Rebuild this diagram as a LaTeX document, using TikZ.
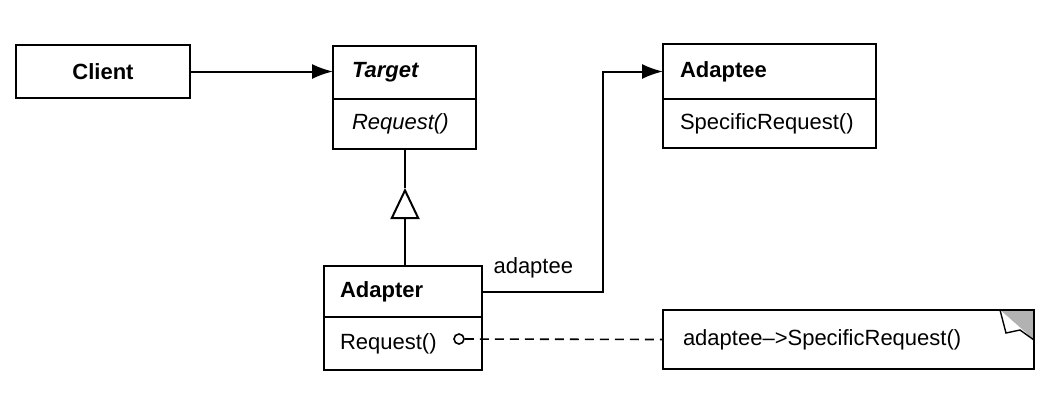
\documentclass[tikz,border=0pt]{standalone}
\usepackage{fontspec}
\setmainfont{Liberation Sans}
\usetikzlibrary{shapes,arrows.meta,positioning,calc}

\tikzset{
    umlbox/.style={draw, line width=2pt, inner ysep=0pt, outer sep=0pt, font=\fontsize{22}{26}\selectfont},
    clspart/.style 2 args={umlbox, align=left, text width=#1, inner xsep=#2},
    assoc/.style={line width=2pt, -{Latex[length=21pt,width=15pt]}},
    inherit/.style={line width=2pt, -{Triangle[open,length=31pt,width=29pt]}},
}

\begin{document}
\begin{tikzpicture}[x=1pt, y=-1pt]
    \useasboundingbox (0,0) rectangle (1051,400);

    % Client
    \node[umlbox, minimum width=174pt, minimum height=53pt] (client) at (103,71.5) {\bfseries Client};

    % Target
    \node[clspart={105pt}{19pt}, minimum height=53pt] (target) at (404.5,72.5) {\bfseries\itshape Target};
    \node[clspart={105pt}{19pt}, minimum height=50pt, below=0pt of target] (targetops) {\itshape Request()};

    % Adaptee
    \node[clspart={179pt}{17pt}, minimum height=55pt] (adaptee) at (769.5,71.5) {\bfseries Adaptee};
    \node[clspart={179pt}{17pt}, minimum height=49pt, below=0pt of adaptee] (adapteeops) {SpecificRequest()};

    % Adapter
    \node[clspart={126pt}{16pt}, minimum height=51pt] (adapter) at (403,291.5) {\bfseries Adapter};
    \node[clspart={126pt}{16pt}, minimum height=53pt, below=0pt of adapter] (adapterops) {Request()};

    % Note with folded corner
    \node[clspart={331pt}{20pt}, minimum height=59pt] (note) at (848.5,339.5) {adaptee--{>}SpecificRequest()};
    \fill[gray!60] ($(note.north east)+(-34,0)$) -- (note.north east) -- ($(note.north east)+(0,30)$) -- cycle;
    \draw[line width=2pt] (note.north west) rectangle (note.south east);
    \draw[line width=1.4pt, fill=white] ($(note.north east)+(-34,0)$) -- ($(note.north east)+(-28,23)$)
        -- ($(note.north east)+(-14,20)$) -- ($(note.north east)+(0,30)$);

    % Connectors
    \draw[assoc] (client.east) -- (target.west |- client.east);
    \coordinate (apex) at (405,188);
    \draw[inherit] (adapter.north -| apex) -- (apex);
    \draw[line width=2pt] (apex) -- (targetops.south -| apex);
    \draw[assoc] (adapter.east) -| ([xshift=-60pt]adaptee.west) -- (adaptee.west);
    \node[anchor=west, font=\fontsize{22}{26}\selectfont] (role) at ([xshift=8pt,yshift=24pt]adapter.east) {adaptee};

    % Implementation note
    \node[draw, circle, line width=1.6pt, minimum size=10pt, inner sep=0pt] (impl) at (459,339) {};
    \draw[line width=1.6pt, dash pattern=on 9pt off 6pt] (impl) -- (note.west);
\end{tikzpicture}
\end{document}
